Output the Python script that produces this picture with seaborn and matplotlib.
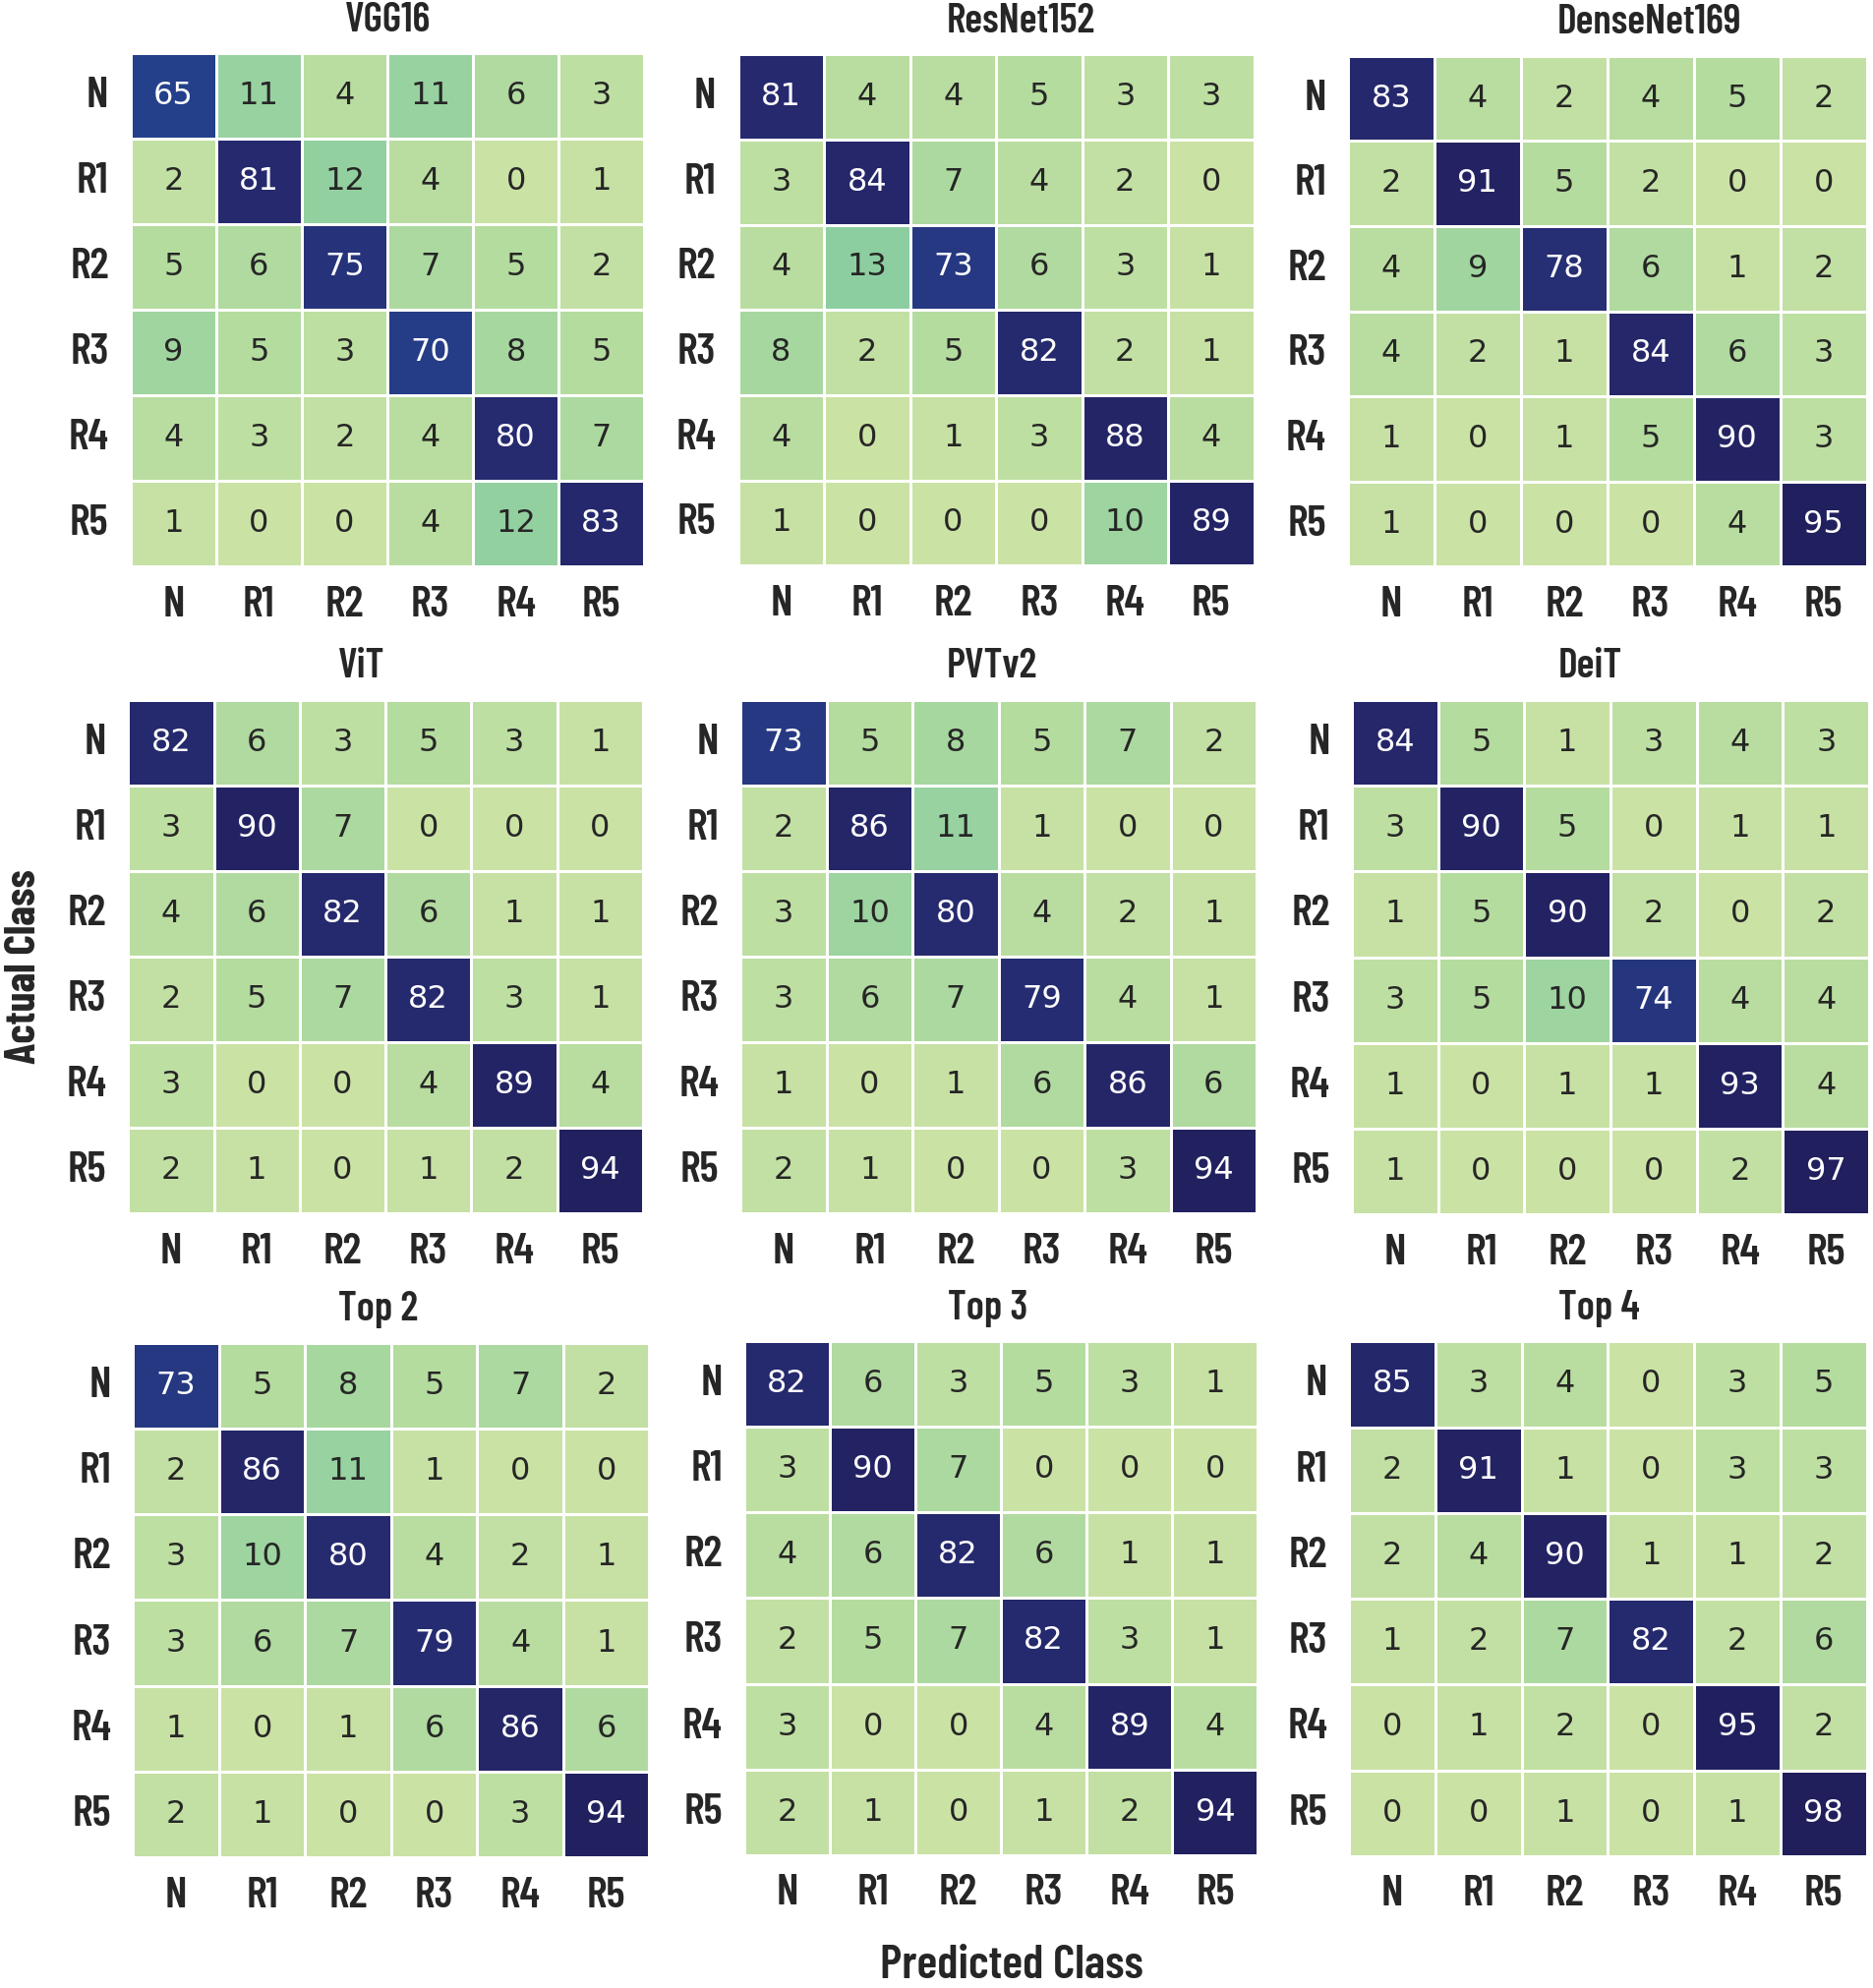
import numpy as np
import pandas as pd
import matplotlib
matplotlib.use("Agg")
import matplotlib.pyplot as plt
import seaborn as sns
from matplotlib import font_manager as fm
from matplotlib.colors import LinearSegmentedColormap

classes = ["N", "R1", "R2", "R3", "R4", "R5"]

vgg16 = [[65, 11, 4, 11, 6, 3],
         [2, 81, 12, 4, 0, 1],
         [5, 6, 75, 7, 5, 2],
         [9, 5, 3, 70, 8, 5],
         [4, 3, 2, 4, 80, 7],
         [1, 0, 0, 4, 12, 83]]
resnet152 = [[81, 4, 4, 5, 3, 3],
             [3, 84, 7, 4, 2, 0],
             [4, 13, 73, 6, 3, 1],
             [8, 2, 5, 82, 2, 1],
             [4, 0, 1, 3, 88, 4],
             [1, 0, 0, 0, 10, 89]]
densenet169 = [[83, 4, 2, 4, 5, 2],
               [2, 91, 5, 2, 0, 0],
               [4, 9, 78, 6, 1, 2],
               [4, 2, 1, 84, 6, 3],
               [1, 0, 1, 5, 90, 3],
               [1, 0, 0, 0, 4, 95]]
vit = [[82, 6, 3, 5, 3, 1],
       [3, 90, 7, 0, 0, 0],
       [4, 6, 82, 6, 1, 1],
       [2, 5, 7, 82, 3, 1],
       [3, 0, 0, 4, 89, 4],
       [2, 1, 0, 1, 2, 94]]
pvtv2 = [[73, 5, 8, 5, 7, 2],
         [2, 86, 11, 1, 0, 0],
         [3, 10, 80, 4, 2, 1],
         [3, 6, 7, 79, 4, 1],
         [1, 0, 1, 6, 86, 6],
         [2, 1, 0, 0, 3, 94]]
deit = [[84, 5, 1, 3, 4, 3],
        [3, 90, 5, 0, 1, 1],
        [1, 5, 90, 2, 0, 2],
        [3, 5, 10, 74, 4, 4],
        [1, 0, 1, 1, 93, 4],
        [1, 0, 0, 0, 2, 97]]
top2 = [[73, 5, 8, 5, 7, 2],
        [2, 86, 11, 1, 0, 0],
        [3, 10, 80, 4, 2, 1],
        [3, 6, 7, 79, 4, 1],
        [1, 0, 1, 6, 86, 6],
        [2, 1, 0, 0, 3, 94]]
top3 = [[82, 6, 3, 5, 3, 1],
        [3, 90, 7, 0, 0, 0],
        [4, 6, 82, 6, 1, 1],
        [2, 5, 7, 82, 3, 1],
        [3, 0, 0, 4, 89, 4],
        [2, 1, 0, 1, 2, 94]]
top4 = [[85, 3, 4, 0, 3, 5],
        [2, 91, 1, 0, 3, 3],
        [2, 4, 90, 1, 1, 2],
        [1, 2, 7, 82, 2, 6],
        [0, 1, 2, 0, 95, 2],
        [0, 0, 1, 0, 1, 98]]

titles = ["VGG16", "ResNet152", "DenseNet169", "ViT", "PVTv2", "DeiT",
          "Top 2", "Top 3", "Top 4"]
matrices = [vgg16, resnet152, densenet169, vit, pvtv2, deit, top2, top3, top4]

sns.set_style("white")
names = {f.name for f in fm.fontManager.ttflist}
if "Barlow Condensed" in names:
    cond = "Barlow Condensed"
elif "Asap Condensed" in names:
    cond = "Asap Condensed"
else:
    cond = "DejaVu Sans"
plt.rcParams["font.family"] = ["DejaVu Sans"]

cmap = LinearSegmentedColormap.from_list(
    "cm_green_navy",
    [(0.00, "#cbe2a5"), (0.05, "#b4dc9f"), (0.13, "#8dcea0"),
     (0.40, "#3f9bb0"), (0.65, "#24408b"), (0.72, "#263a84"),
     (0.80, "#262a6f"), (1.00, "#201d5a")])

FW, FH = 1477.0, 1568.0
# panel boxes (left, top, right, bottom) in reference pixel units (1477x1568 view)
boxes = [(103, 42, 508, 447), (582, 43, 989, 446), (1063, 44, 1472, 447),
         (101, 552, 507, 957), (584, 552, 991, 957), (1066, 552, 1474, 958),
         (105, 1059, 512, 1465), (587, 1058, 992, 1463), (1064, 1058, 1472, 1464)]
title_x = [306, 805, 1301, 285, 782, 1254, 298, 779, 1261]

fig = plt.figure(figsize=(19.05, 20.22), dpi=100)

for i, (mat, title) in enumerate(zip(matrices, titles)):
    l, t, rr, b = boxes[i]
    ax = fig.add_axes([l / FW, 1 - b / FH, (rr - l) / FW, (b - t) / FH])
    df = pd.DataFrame(mat, index=classes, columns=classes)
    sns.heatmap(df, ax=ax, cmap=cmap, vmin=0, vmax=100, annot=True, fmt="d",
                cbar=False, linewidths=2, linecolor="white",
                annot_kws={"fontsize": 23})
    ax.set_xticklabels(classes, rotation=0, fontsize=32, fontweight=600, family=cond)
    ax.set_yticklabels(classes, rotation=0, fontsize=32, fontweight=600, family=cond)
    ax.tick_params(axis="both", length=0)
    ax.tick_params(axis="x", pad=14)
    ax.tick_params(axis="y", pad=16)
    ax.set_xlabel("")
    ax.set_ylabel("")
    tx = (title_x[i] - l) / (rr - l)
    ax.text(tx, 1.0 + 26 / (b - t), title, transform=ax.transAxes,
            ha="center", va="center", fontsize=30, fontweight=600, family=cond)

fig.text(0.54, 0.011, "Predicted Class", ha="center", va="center",
         fontsize=35, fontweight=600, family=cond)
fig.text(0.013, 0.514, "Actual Class", ha="center", va="center", rotation=90,
         fontsize=32, fontweight=700, family=cond)

fig.savefig("out.png", dpi=100)
